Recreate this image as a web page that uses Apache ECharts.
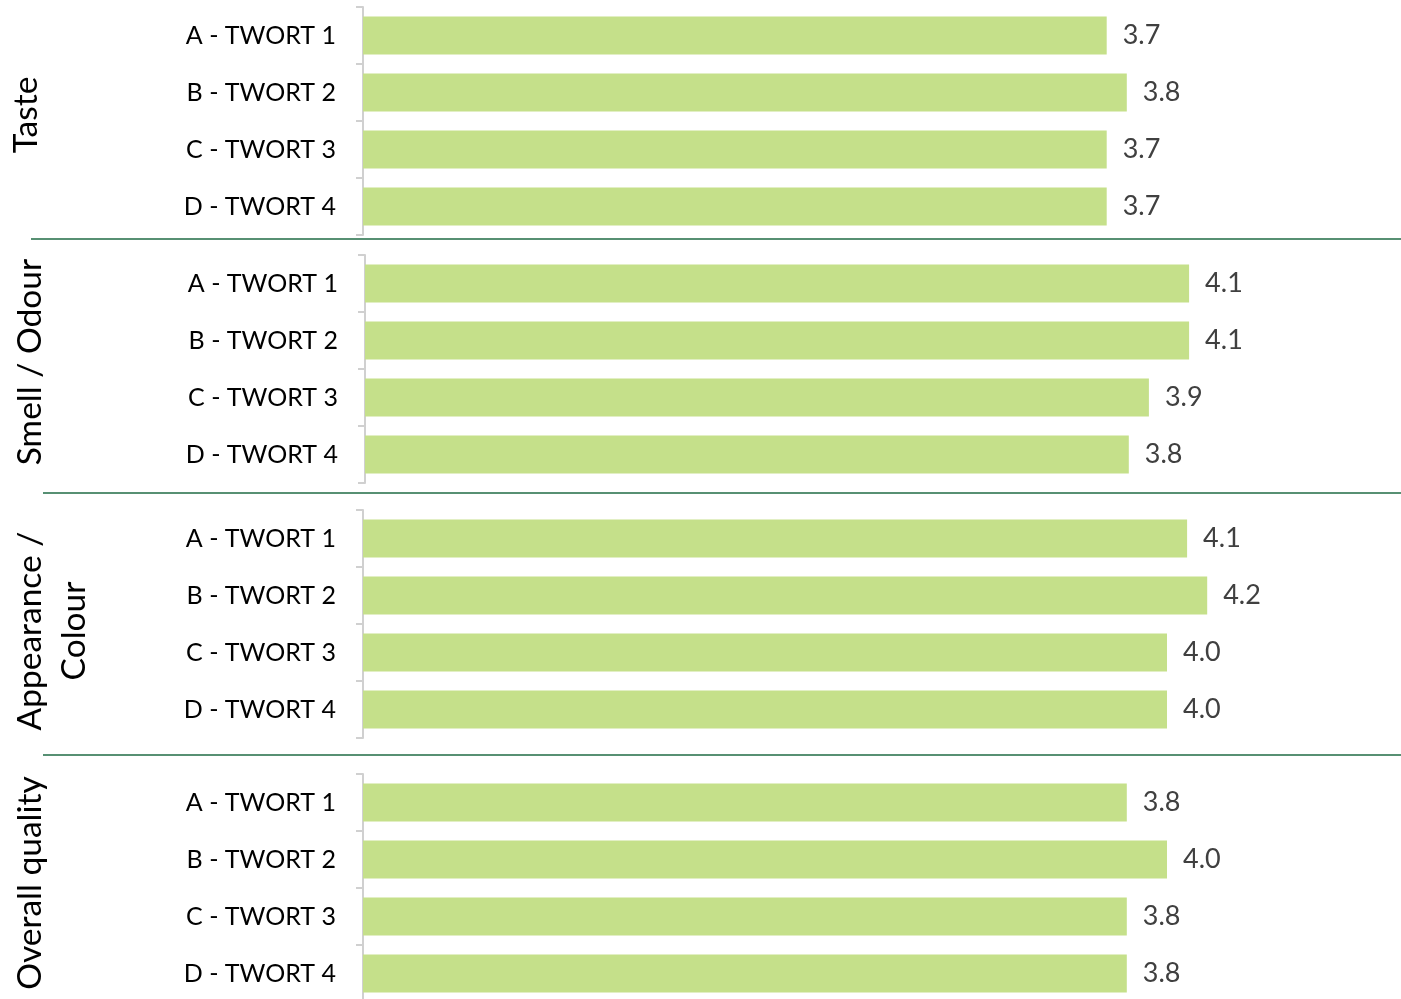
<!DOCTYPE html>
<html>
<head>
<meta charset="utf-8">
<script src="https://cdn.jsdelivr.net/npm/echarts@6/dist/echarts.min.js"></script>
<style>
  html, body { margin: 0; padding: 0; background: #fff; }
  #main { width: 1401px; height: 999px; }
</style>
</head>
<body>
<div id="main"></div>
<script>
// data
var categories = ['A - TWORT 1', 'B - TWORT 2', 'C - TWORT 3', 'D - TWORT 4'];
var groupNames = ['Taste', 'Smell / Odour', 'Appearance /\nColour', 'Overall quality'];
var taste = [3.7, 3.8, 3.7, 3.7];
var smell = [4.1, 4.1, 3.9, 3.8];
var appearance = [4.1, 4.2, 4.0, 4.0];
var overall = [3.8, 4.0, 3.8, 3.8];

var groupValues = [taste, smell, appearance, overall];

// panel layout
var panelTop = [7, 255, 510, 774];
var panelLeft = [363, 365, 363, 363];
var panelNameGap = [315, 313, 267, 311];
var namePad = [[0, 0, 0, 12], [0, 0, 0, 14], [0, 14, 0, 0], [0, 0, 0, 10]];

var myChart = echarts.init(document.getElementById('main'));

var grids = [], xAxes = [], yAxes = [], series = [];
groupValues.forEach(function (vals, i) {
	grids.push({
		left: panelLeft[i], width: 1005, top: panelTop[i], height: 228,
		containLabel: false, outerBoundsMode: 'none'
	});
	xAxes.push({
		gridIndex: i, type: 'value', min: 0, max: 5, show: false
	});
	yAxes.push({
		gridIndex: i,
		type: 'category',
		inverse: true,
		data: categories,
		name: groupNames[i],
		nameLocation: 'middle',
		nameRotate: 90,
		nameGap: panelNameGap[i],
		nameTextStyle: { fontSize: 33.5, color: '#000', fontFamily: 'Lato', lineHeight: 44, padding: namePad[i] },
		axisLine: { show: true, lineStyle: { color: '#d0d0d0', width: 2 } },
		axisTick: { show: true, length: 7, lineStyle: { color: '#d0d0d0', width: 2 } },
		axisLabel: { fontSize: 25, color: '#000', margin: 27, fontFamily: 'Lato' }
	});
	series.push({
		type: 'bar',
		xAxisIndex: i,
		yAxisIndex: i,
		data: vals,
		barCategoryGap: '33%',
		itemStyle: { color: '#c5e08a' },
		label: {
			show: true,
			position: 'right',
			distance: 16,
			fontSize: 27,
			color: '#404040',
			fontFamily: 'Lato',
			formatter: function (p) { return p.value.toFixed(1); }
		}
	});
});

// separator lines between panels
var sepY = [239, 493, 755];
var sepX = [31, 43, 43];
var graphics = sepY.map(function (y, k) {
	return {
		type: 'line',
		shape: { x1: sepX[k], y1: y, x2: 1401, y2: y },
		style: { stroke: '#1f6b45', lineWidth: 1.5 }
	};
});

myChart.setOption({
	animation: false,
	textStyle: { fontFamily: 'Lato' },
	grid: grids,
	xAxis: xAxes,
	yAxis: yAxes,
	series: series,
	graphic: graphics
});
</script>
</body>
</html>
